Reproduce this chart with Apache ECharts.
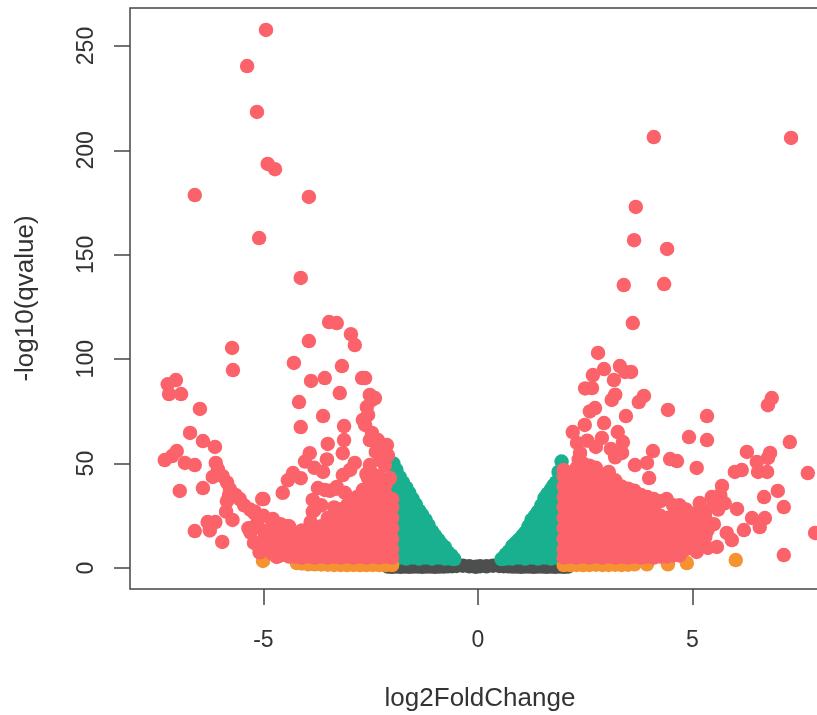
<!DOCTYPE html>
<html><head><meta charset="utf-8">
<style>html,body{margin:0;padding:0;background:#fff}#c{width:817px;height:715px}</style>
<script src="https://cdn.jsdelivr.net/npm/echarts@6/dist/echarts.min.js"></script>
</head><body><div id="c"></div>
<script>
const xTicks = [-5, 0, 5];
const yTicks = [0, 50, 100, 150, 200, 250];

// [x, [y values]] columns
const grayColumns = [
  [-2.1,[0.7]],[-2,[0.6]],[-1.9,[0.7]],[-1.8,[0.6]],[-1.7,[0.7]],[-1.6,[0.6]],[-1.5,[0.7]],[-1.4,[0.7]],[-1.3,[0.6]],[-1.2,[0.7]],[-1.1,[0.7]],[-1,[0.6]],[-0.9,[0.7]],[-0.8,[0.7]],[-0.7,[0.8]],[-0.6,[0.9]],[-0.5,[1]],[-0.35,[1.1]],[-0.2,[0.8]],
  [-0.05,[0.6]],[0.05,[0.9]],[0.2,[0.8]],[0.35,[1.1]],[0.5,[1]],[0.6,[0.9]],[0.7,[0.8]],[0.8,[0.7]],[0.9,[0.7]],[1,[0.6]],[1.1,[0.7]],[1.2,[0.7]],[1.3,[0.6]],[1.4,[0.7]],[1.5,[0.7]],[1.6,[0.6]],[1.7,[0.7]],[1.8,[0.6]],[1.9,[0.7]],[2,[0.6]],[2.1,[0.7]]
];
const greenColumns = [
  [-1.97,[4.5,9,14,19,24,29,34,39,44,50]],[-1.9,[47]],[-1.82,[5,10,15,20,25,30,35,40,43.5]],[-1.75,[41]],[-1.67,[4.5,9,14,19,24,29,34,38.5]],[-1.6,[36]],
  [-1.52,[5,10,15,20,25,30,33]],[-1.45,[30.5]],[-1.37,[4.5,9,14,19,24,27.5]],[-1.3,[25.5]],[-1.22,[5,10,15,20,23]],[-1.15,[20.5]],[-1.07,[4.5,9,14,17.5]],[-1,[15.5]],[-0.92,[5,10,13.5]],[-0.85,[11.5]],[-0.77,[4.5,8,10]],[-0.7,[7.5]],[-0.62,[4.5,6]],[-0.55,[4.3]],
  [0.55,[4.3]],[0.65,[4.5,6.5]],[0.72,[8]],[0.8,[4.5,8,10.5]],[0.88,[12]],[0.95,[5,10,13.5]],[1.03,[15.3]],[1.1,[4.5,9,14,17]],[1.18,[20]],[1.25,[5,10,15,20,23]],[1.33,[25]],[1.4,[4.5,9,14,19,24,27]],[1.48,[30]],
  [1.55,[5,10,15,20,25,30,33.5]],[1.62,[35.5]],[1.7,[4.5,9,14,19,24,29,34,37.5]],[1.76,[39.5]],[1.82,[5,10,15,20,25,30,35,41]],[1.88,[46]],[1.95,[4.5,9,14,19,24,29,34,39,44,51]]
];
const orangeX = [-2,-2.15,-2.3,-2.45,-2.6,-2.75,-2.9,-3.05,-3.2,-3.35,-3.5,-3.65,-3.8,-3.95,-5.01,-4.22,-4.1,
  2,2.15,2.3,2.45,2.6,2.75,2.9,3.05,3.2,3.35,3.5,3.65,3.94,4.43,4.87,6.01];
const orangeY = [1.4,1.4,1.4,1.5,1.4,1.4,1.5,1.4,1.5,1.5,1.6,1.7,1.8,1.8,3.4,2.4,2.2,
  1.4,1.4,1.5,1.4,1.5,1.6,1.5,1.5,1.6,1.5,1.6,1.8,1.8,1.8,2.4,3.8];
const redColumns = [
  [-2.0,[5,9,14,19,24,29,33]],[-2.15,[5.5,10,15,20,25,30,35,40]],[-2.3,[5,9,14,19,24,29,34,39,44]],[-2.45,[5.5,10,15,20,25,30,35,40,45]],
  [-2.6,[5,9,14,19,24,29,33,38,45]],[-2.75,[5.5,10,15,20,25,30]],[-2.9,[5,9,14,19,25,28]],[-3.05,[5.5,10,15,20,26,30]],
  [-3.2,[5,9,14,19,23,28]],[-3.35,[5.5,10,15,20,25,29]],[-3.5,[5,9,14,19,24]],[-3.65,[5.5,10,15,20,30]],[-3.8,[5,9,14,18,28]],
  [-3.95,[5.5,10,15]],[-4.1,[5,9,14,18]],[-4.25,[5.5,10,15]],[-4.4,[5.5,10,15,20]],[-4.6,[6,11,16,21]],[-4.8,[7,12,17,23]],[-5.0,[13,18,25,33]],[-5.2,[20,27]],
  [2.0,[5,9,14,19,24,29,34,39,44,47]],[2.15,[5.5,10,15,20,25,30,35,40,45]],[2.3,[5,9,14,19,24,29,34,39,44,48]],[2.45,[5.5,10,15,20,25,30,35,40,45,50]],
  [2.6,[5,9,14,19,24,29,34,39,44,49]],[2.75,[5.5,10,15,20,25,30,35,40,45,48]],[2.9,[5,9,14,19,24,29,34,39,44]],[3.05,[5.5,10,15,20,25,30,35,40,46]],
  [3.2,[5,9,14,19,24,29,34,38,42]],[3.35,[5.5,10,15,20,25,30,35,39]],[3.5,[5,9,14,19,24,29,34,38]],[3.65,[5.5,10,15,20,25,30,37]],
  [3.8,[5,9,14,19,24,29,35]],[3.95,[5.5,10,15,20,25,30,34]],[4.1,[5,9,14,19,24,28,33]],[4.25,[5.5,10,15,20,25,32]],[4.4,[5.5,9,14,19,24,33]],
  [4.55,[6,10,15,20,25,30]],[4.7,[6,10,14,19,24,30]],[4.85,[9,14,19,24,28]],[5.0,[11,16,21,26]],[5.15,[13,18,25]],[5.3,[15,20,27]],[5.5,[21,30]]
];
const redX = [-4.94,-5.38,-5.15,-4.9,-4.73,-6.6,-3.94,-5.1,-4.13,-3.94,-3.47,-3.29,-2.96,-2.87,-5.73,-5.71,-4.29,-3.17,-3.89,-3.57,-2.7,-2.63,-3.22,-4.17,-3.61,-4.13,-3.12,-3.5,-3.12,-3.15,
  -6.48,-6.71,-6.41,-6.13,-7.23,-7.04,-7.2,-6.92,-7.3,-7.13,-7.02,-6.83,-6.6,-6.11,-6.06,-6.18,-6.95,-6.41,-6.6,
  -5.78,-5.55,-5.31,-5.03,-4.78,-4.45,-5.85,-5.95,-5.65,-5.45,-5.2,-6.3,-6.25,-6.12,-5.96,-5.87,-5.85,-5.8,-5.72,-5.3,-5.22,-5.15,-5.09,-5.01,-4.85,-4.69,-5.35,
  -2.59,-2.52,-2.47,-2.4,-2.68,-2.47,-2.12,-2.28,-2.05,-2.56,-2.63,-2.52,-2.33,-2.38,-2.17,-2.52,-2.56,-2.1,
  -2.87,-3.15,-3.29,-3.73,-3.85,-3.57,-2.98,-2.68,-2.82,-4.31,-4.13,-3.81,-3.61,-3.52,-4.43,-4.55,-4.03,-3.92,
  -3.45,-3.3,-3.1,-2.95,-3.85,-3.9,
  4.1,7.3,3.68,4.41,3.64,4.34,3.4,3.61,2.8,3.31,2.94,2.68,3.43,3.57,2.66,3.17,2.5,3.2,3.12,3.87,3.75,4.43,2.61,2.73,5.34,3.45,6.85,6.76,7.27,5.34,4.92,
  6.27,6.81,6.76,6.5,6.53,6.74,5.99,6.15,7.69,6.99,6.67,7.13,5.69,6.04,6.69,6.39,6.57,6.2,7.13,7.86,5.45,5.17,5.8,5.92,5.57,5.36,5.1,5.6,5.75,5.3,5.65,5.35,
  2.21,2.49,2.94,2.89,3.26,3.38,2.31,2.38,3.36,4.08,3.66,3.94,4.48,4.64,5.1,3.99,2.75,3.1,2.55,3.2,2.35];
const redY = [257.7,240.4,218.4,193.5,191,178.6,177.7,158,138.9,108.7,117.8,117.3,112,106.8,105.4,94.8,98.2,96.7,89.6,91,91,91,83.8,79.5,72.8,67.5,68,59.4,61.3,55,
  76.2,64.7,60.8,58,88,90,83.3,83.3,51.7,53.6,56,50.3,49.3,50.3,47.4,43.6,36.9,38.3,17.7,
  37.8,33,28,33,23.5,20,41,44,35,30,26,22,18,22,12.5,27,32,35,23,17,12,21,7.5,13.4,10,5.3,19,
  77.1,82.9,80.5,81.4,70.9,64.7,58.9,51.7,43.1,73.3,68.5,61.3,61.3,55.6,49.3,49.3,43,54,
  50.3,44.5,38.8,38.3,32.6,37.4,47,37.4,34,45.5,43,48,46,52,42,36,51,55,
  37,38,36,33,27,22,
  206.4,206,172.9,152.8,157,136,135.5,117.3,103,96.7,95.3,92.4,93.9,93.9,86.2,90,86,83,80.5,82.4,79.5,75.7,75,76.6,72.8,72.8,81.4,78,60.3,61.3,62.7,
  55.6,55.1,52.7,50.8,46,46,46,46.9,45.5,36.9,34,29.2,39.3,28.3,23.9,23.9,19.6,18.2,6.2,16.8,34,31.1,16.8,13.4,10.1,9.6,7.7,28,31,24,35,18,
  65.1,68.5,69.4,62.3,65.1,60.3,59.9,55.1,55.1,56,49.3,50.3,52.2,51.2,47.9,43.1,58,57,61,53,52];

const fromColumns = cols => cols.flatMap(([x, ys]) => ys.map(y => [x, y]));
const zip = (xs, ys) => xs.map((x, i) => [x, ys[i]]);
const ink = '#444444', txt = '#333333', font = '"Liberation Sans", Arial, sans-serif';
const pts = (name, data, color) => ({type:'scatter', name, data, symbol:'circle', symbolSize:14.5, itemStyle:{color, opacity:1}, silent:true, animation:false, clip:true});

const chart = echarts.init(document.getElementById('c'), null, {renderer:'canvas'});
chart.setOption({
  animation:false,
  backgroundColor:'#fff',
  grid:{left:130, top:8, width:700, height:581, show:true, borderColor:ink, borderWidth:1.5, backgroundColor:'#fff', outerBoundsMode:'none', containLabel:false},
  xAxis:{type:'value', min:-8.11, max:8.207, name:'log2FoldChange', nameLocation:'middle', nameGap:97,
    nameTextStyle:{fontFamily:font, fontSize:26, color:txt},
    axisLine:{show:false, onZero:false}, splitLine:{show:false},
    axisTick:{show:true, customValues:xTicks, length:16, lineStyle:{color:ink, width:1.5}},
    axisLabel:{customValues:xTicks, margin:40, fontFamily:font, fontSize:23, color:txt, formatter:v=>String(v)}},
  yAxis:{type:'value', min:-10.05, max:268.2, name:'-log10(qvalue)', nameLocation:'middle', nameGap:91,
    nameTextStyle:{fontFamily:font, fontSize:26, color:txt},
    axisLine:{show:false, onZero:false}, splitLine:{show:false},
    axisTick:{show:true, customValues:yTicks, length:16, lineStyle:{color:ink, width:1.5}},
    axisLabel:{customValues:yTicks, rotate:90, margin:43, fontFamily:font, fontSize:23, color:txt, align:'center', verticalAlign:'middle', formatter:v=>String(v)}},
  series:[
    pts('ns', fromColumns(grayColumns), '#4d4f4e'),
    pts('fc', fromColumns(greenColumns), '#19b08f'),
    pts('q', zip(orangeX, orangeY), '#f59331'),
    pts('both', fromColumns(redColumns).concat(zip(redX, redY)), '#fb6269')
  ]
});
</script></body></html>
